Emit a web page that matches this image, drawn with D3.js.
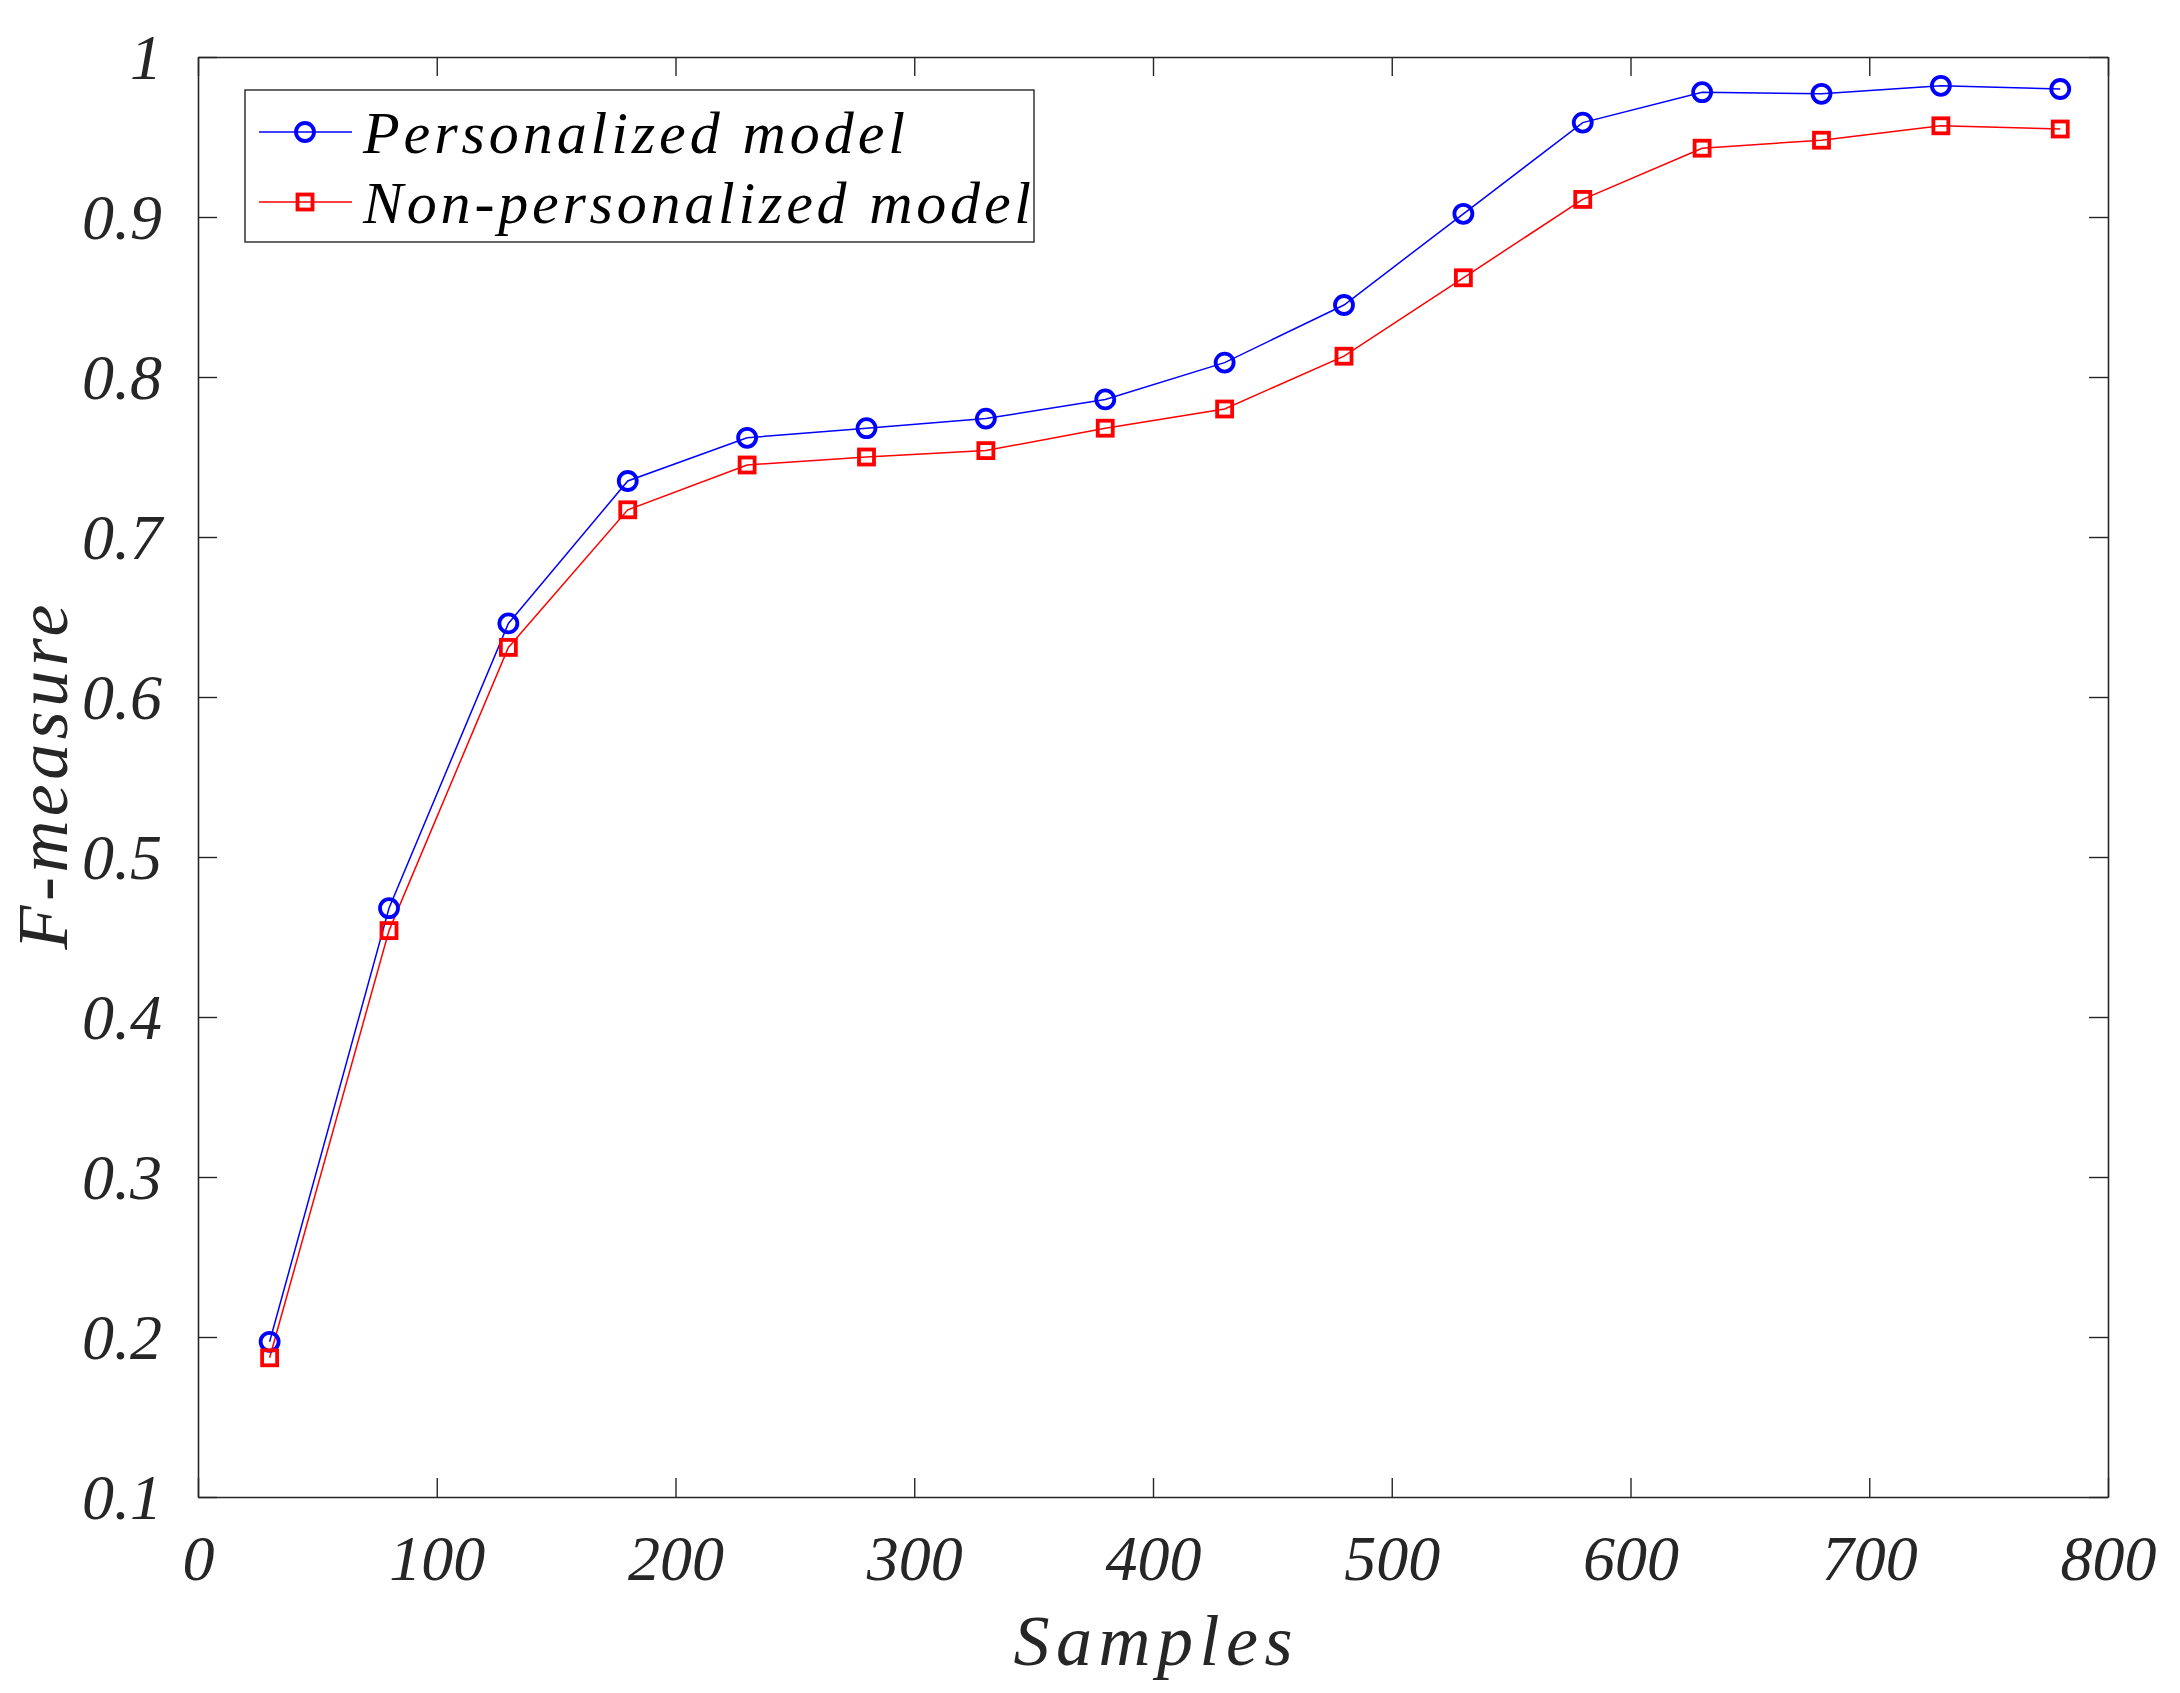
<!DOCTYPE html>
<html>
<head>
<meta charset="utf-8">
<script src="https://cdn.jsdelivr.net/npm/d3@7"></script>
<style>
  body { margin: 0; background: #fff; }
  svg text { font-family: "Liberation Serif", serif; font-style: italic; }
</style>
</head>
<body>
<div id="chart"></div>
<script>
// data
const samples = [30, 80, 130, 180, 230, 280, 330, 380, 430, 480, 530, 580, 630, 680, 730, 780];
const personalized = [0.197, 0.468, 0.646, 0.735, 0.762, 0.768, 0.774, 0.786, 0.809, 0.845, 0.902, 0.959, 0.978, 0.977, 0.982, 0.980];
const nonPersonalized = [0.187, 0.454, 0.631, 0.717, 0.745, 0.750, 0.754, 0.768, 0.780, 0.813, 0.862, 0.911, 0.943, 0.948, 0.957, 0.955];
const xTicks = [0, 100, 200, 300, 400, 500, 600, 700, 800];
const yTicks = [0.1, 0.2, 0.3, 0.4, 0.5, 0.6, 0.7, 0.8, 0.9, 1];
const seriesNames = ["Personalized model", "Non-personalized model"];

const width = 2180, height = 1693;
const margin = {top: 57, right: 72, bottom: 196, left: 198};
const axisColor = "#262626";

const svg = d3.select("#chart").append("svg")
  .attr("width", width)
  .attr("height", height);

const x = d3.scaleLinear().domain([0, 800]).range([margin.left, width - margin.right]);
const y = d3.scaleLinear().domain([0.1, 1]).range([height - margin.bottom, margin.top]);

const tick = 19;
const fmtY = d => d === 1 ? "1" : d3.format(".1f")(d);

// axes, ticks pointing inwards (box on)
const gx = svg.append("g").attr("transform", `translate(0,${y(0.1)})`)
  .call(d3.axisBottom(x).tickValues(xTicks).tickSizeInner(-tick).tickSizeOuter(0).tickPadding(38));
const gxt = svg.append("g").attr("transform", `translate(0,${y(1)})`)
  .call(d3.axisTop(x).tickValues(xTicks).tickSizeInner(-tick).tickSizeOuter(0).tickFormat(""));
const gy = svg.append("g").attr("transform", `translate(${x(0)},0)`)
  .call(d3.axisLeft(y).tickValues(yTicks).tickSizeInner(-tick).tickSizeOuter(0).tickFormat(fmtY).tickPadding(36));
const gyr = svg.append("g").attr("transform", `translate(${x(800)},0)`)
  .call(d3.axisRight(y).tickValues(yTicks).tickSizeInner(-tick).tickSizeOuter(0).tickFormat(""));

[gx, gxt, gy, gyr].forEach(g => {
  g.selectAll("path.domain").attr("stroke", axisColor).attr("stroke-width", 1.6);
  g.selectAll(".tick line").attr("stroke", axisColor).attr("stroke-width", 1.4);
  g.selectAll(".tick text")
    .attr("fill", axisColor)
    .style("font-size", "64px")
    .style("font-family", "'Liberation Serif', serif")
    .style("font-style", "italic");
});
gx.selectAll(".tick text").attr("dy", "0.71em");
gy.selectAll(".tick text").attr("dy", "0.34em");

// axis titles
svg.append("text")
  .attr("x", x(400)).attr("y", 1665)
  .attr("text-anchor", "middle")
  .attr("fill", axisColor)
  .style("font-size", "72px")
  .attr("textLength", 279).attr("lengthAdjust", "spacing")
  .text("Samples");

svg.append("text")
  .attr("transform", `translate(67,${(y(0.1) + y(1)) / 2}) rotate(-90)`)
  .attr("text-anchor", "middle")
  .attr("fill", axisColor)
  .style("font-size", "72px")
  .attr("textLength", 345).attr("lengthAdjust", "spacing")
  .text("F-measure");

// lines and markers
const line = d3.line().x(d => x(d[0])).y(d => y(d[1]));
const ptsA = samples.map((s, i) => [s, personalized[i]]);
const ptsB = samples.map((s, i) => [s, nonPersonalized[i]]);

svg.append("path").datum(ptsA).attr("d", line)
  .attr("fill", "none").attr("stroke", "#0000ff").attr("stroke-width", 1.5);
svg.append("path").datum(ptsB).attr("d", line)
  .attr("fill", "none").attr("stroke", "#ff0000").attr("stroke-width", 1.5);

const rad = 9;
svg.selectAll("circle.pA").data(ptsA).enter()
  .append("circle")
  .attr("class", "pA")
  .attr("cx", d => x(d[0])).attr("cy", d => y(d[1]))
  .attr("r", rad)
  .attr("fill", "none").attr("stroke", "#0000ff").attr("stroke-width", 3.8);

const sq = 15;
svg.selectAll("rect.pB").data(ptsB).enter()
  .append("rect")
  .attr("class", "pB")
  .attr("x", d => x(d[0]) - sq / 2).attr("y", d => y(d[1]) - sq / 2)
  .attr("width", sq).attr("height", sq)
  .attr("fill", "none").attr("stroke", "#ff0000").attr("stroke-width", 3.8);

// legend
const lg = svg.append("g");
lg.append("rect")
  .attr("x", 245).attr("y", 90).attr("width", 789).attr("height", 152)
  .attr("fill", "#fff").attr("stroke", axisColor).attr("stroke-width", 1.4);

const rows = [
  {name: seriesNames[0], color: "#0000ff", mark: "circle", cy: 132, len: 542},
  {name: seriesNames[1], color: "#ff0000", mark: "square", cy: 202, len: 668}
];
rows.forEach(r => {
  lg.append("line")
    .attr("x1", 259).attr("x2", 352).attr("y1", r.cy).attr("y2", r.cy)
    .attr("stroke", r.color).attr("stroke-width", 1.5);
  if (r.mark === "circle") {
    lg.append("circle").attr("cx", 305).attr("cy", r.cy).attr("r", rad)
      .attr("fill", "none").attr("stroke", r.color).attr("stroke-width", 3.8);
  } else {
    lg.append("rect").attr("x", 305 - sq / 2).attr("y", r.cy - sq / 2)
      .attr("width", sq).attr("height", sq)
      .attr("fill", "none").attr("stroke", r.color).attr("stroke-width", 3.8);
  }
  lg.append("text")
    .attr("x", 363).attr("y", r.cy + 21)
    .attr("fill", "#000")
    .style("font-size", "60px")
    .attr("textLength", r.len).attr("lengthAdjust", "spacing")
    .text(r.name);
});
</script>
</body>
</html>
